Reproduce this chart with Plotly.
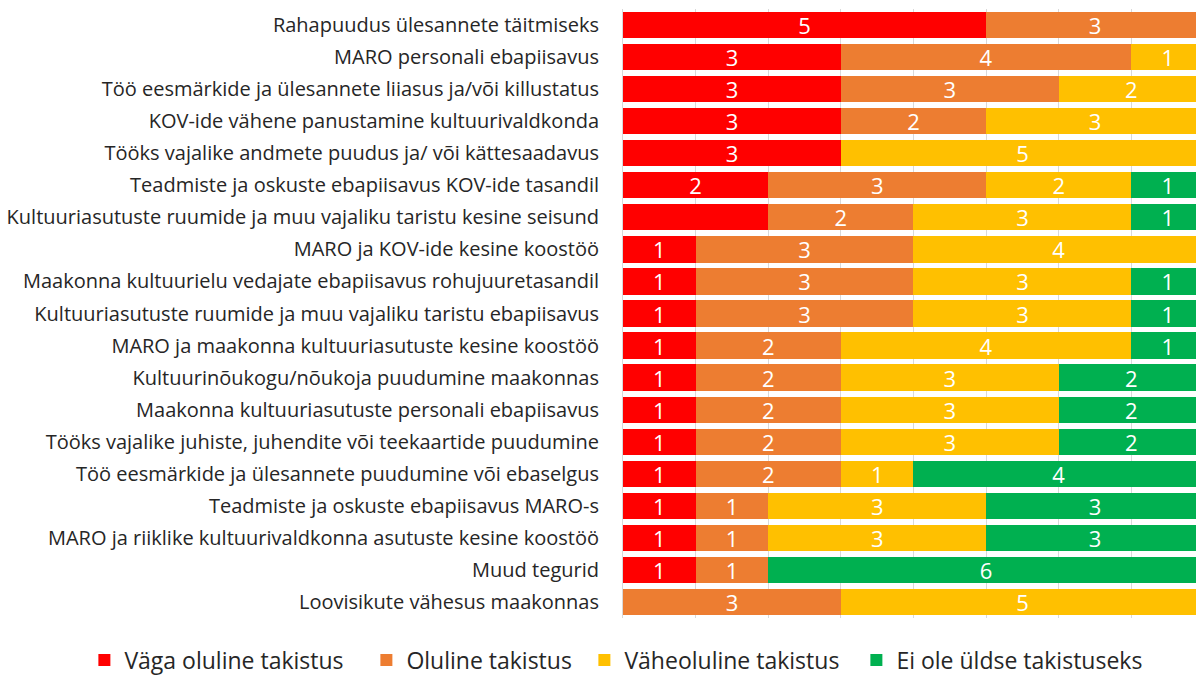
import plotly.graph_objects as go

categories = [
    "Rahapuudus ülesannete täitmiseks",
    "MARO personali ebapiisavus",
    "Töö eesmärkide ja ülesannete liiasus ja/või killustatus",
    "KOV-ide vähene panustamine kultuurivaldkonda",
    "Tööks vajalike andmete puudus ja/ või kättesaadavus",
    "Teadmiste ja oskuste ebapiisavus KOV-ide tasandil",
    "Kultuuriasutuste ruumide ja muu vajaliku taristu kesine seisund",
    "MARO ja KOV-ide kesine koostöö",
    "Maakonna kultuurielu vedajate ebapiisavus rohujuuretasandil",
    "Kultuuriasutuste ruumide ja muu vajaliku taristu ebapiisavus",
    "MARO ja maakonna kultuuriasutuste kesine koostöö",
    "Kultuurinõukogu/nõukoja puudumine maakonnas",
    "Maakonna kultuuriasutuste personali ebapiisavus",
    "Tööks vajalike juhiste, juhendite või teekaartide puudumine",
    "Töö eesmärkide ja ülesannete puudumine või ebaselgus",
    "Teadmiste ja oskuste ebapiisavus MARO-s",
    "MARO ja riiklike kultuurivaldkonna asutuste kesine koostöö",
    "Muud tegurid",
    "Loovisikute vähesus maakonnas",
]

series_names = ["Väga oluline takistus", "Oluline takistus", "Väheoluline takistus", "Ei ole üldse takistuseks"]
vaga_oluline = [5, 3, 3, 3, 3, 2, 2, 1, 1, 1, 1, 1, 1, 1, 1, 1, 1, 1, 0]
oluline = [3, 4, 3, 2, 0, 3, 2, 3, 3, 3, 2, 2, 2, 2, 2, 1, 1, 1, 3]
vaheoluline = [0, 1, 2, 3, 5, 2, 3, 4, 3, 3, 4, 3, 3, 3, 1, 3, 3, 0, 5]
ei_ole = [0, 0, 0, 0, 0, 1, 1, 0, 1, 1, 1, 2, 2, 2, 4, 3, 3, 6, 0]
# data labels that are not shown in the reference (category index, series index)
hidden_labels = [(6, 0)]

# styles
colors = ["#FF0000", "#ED7D31", "#FFC000", "#00B050"]
legend_entry_widths = [237, 173, 227, 250]

all_series = [vaga_oluline, oluline, vaheoluline, ei_ole]

fig = go.Figure()
for si, (name, vals, col, lw) in enumerate(zip(series_names, all_series, colors, legend_entry_widths)):
    texts = []
    for ci, v in enumerate(vals):
        if v == 0 or (ci, si) in hidden_labels:
            texts.append("")
        else:
            texts.append(str(v))
    fig.add_trace(go.Bar(
        y=categories, x=vals, name=name, orientation="h",
        marker=dict(color=col, line=dict(width=0)),
        text=texts, textposition="inside", insidetextanchor="middle",
        textangle=0, constraintext="none",
        textfont=dict(color="white", size=22, family="Open Sans"),
        legendwidth=lw,
        hoverinfo="x+y+name",
    ))

fig.update_layout(
    barmode="stack",
    bargap=0.18,
    width=1196, height=682,
    margin=dict(l=623, r=0, t=9, b=64),
    plot_bgcolor="white", paper_bgcolor="white",
    font=dict(family="Open Sans", size=20, color="#262626"),
    xaxis=dict(range=[0, 7.89], dtick=1, showgrid=True, gridcolor="#d9d9d9", gridwidth=1,
               showticklabels=False, zeroline=False, showline=False,
               ticks="", fixedrange=True),
    yaxis=dict(autorange=False, range=[18.5, -0.5], type="category",
               showline=True, linecolor="#d9d9d9", linewidth=1, ticks="",
               ticklabelstandoff=19, tickfont=dict(size=20, color="#262626")),
    legend=dict(orientation="h", x=-0.94, xanchor="left",
                y=-0.1045, yanchor="bottom",
                font=dict(size=23, color="#262626"), itemwidth=30,
                traceorder="normal"),
    showlegend=True,
)

fig.write_html("out.html", config={"displayModeBar": False},
               post_script="document.body.style.margin='0';document.body.style.overflow='hidden';")
